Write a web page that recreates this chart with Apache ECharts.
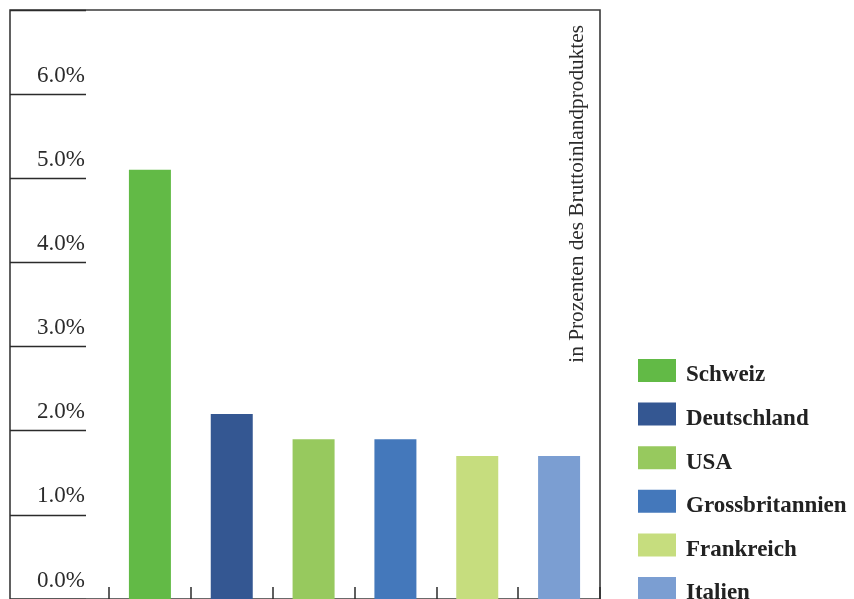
<!DOCTYPE html>
<html>
<head>
<meta charset="utf-8">
<script src="https://cdn.jsdelivr.net/npm/echarts@6/dist/echarts.min.js"></script>
<style>
html,body{margin:0;padding:0;background:#fff;}
#chart{width:854px;height:599px;}
</style>
</head>
<body>
<div id="chart"></div>
<script>
const categories = ['Schweiz', 'Deutschland', 'USA', 'Grossbritannien', 'Frankreich', 'Italien'];
const values = [5.1, 2.2, 1.9, 1.9, 1.7, 1.7];
const colors = ['#62BA46', '#345792', '#97C95E', '#4478BB', '#C6DD7E', '#7B9ED2'];
const yTickLabels = ['0.0%', '1.0%', '2.0%', '3.0%', '4.0%', '5.0%', '6.0%', ''];
const axisTitle = 'in Prozenten des Bruttoinlandproduktes';

const serif = '"Liberation Serif", "DejaVu Serif", serif';
const ink = '#2b2b2b';

const chart = echarts.init(document.getElementById('chart'), null, {renderer: 'canvas'});

const series = categories.map((name, i) => ({
  name: name,
  type: 'bar',
  stack: 'all',
  xAxisIndex: 0,
  yAxisIndex: 0,
  barWidth: 42,
  itemStyle: {color: colors[i]},
  data: categories.map((c, j) => (j === i ? values[j] : '-')),
  silent: true
}));

chart.setOption({
  animation: false,
  backgroundColor: '#fff',
  grid: [
    {left: 109, right: 254, top: 10, bottom: -1},
    {left: 10, width: 76, top: 10, bottom: -1},
    {left: 10, right: 254, top: 10, bottom: -8, show: true, borderColor: '#3a3a3a', borderWidth: 1.6, backgroundColor: 'transparent'}
  ],
  xAxis: [
    {
      gridIndex: 0, type: 'category', data: categories, boundaryGap: true,
      axisLine: {show: false},
      axisLabel: {show: false},
      axisTick: {show: true, interval: 0, inside: true, length: 12, lineStyle: {color: ink, width: 1.5}},
      splitLine: {show: false}
    },
    {gridIndex: 1, type: 'value', show: false},
    {gridIndex: 2, type: 'value', show: false}
  ],
  yAxis: [
    {
      gridIndex: 0, type: 'value', min: 0, max: 7, interval: 1,
      axisLine: {show: false}, axisTick: {show: false}, axisLabel: {show: false}, splitLine: {show: false}
    },
    {
      gridIndex: 1, type: 'value', min: 0, max: 7, interval: 1, position: 'right',
      axisLine: {show: false}, axisTick: {show: false},
      splitLine: {show: true, lineStyle: {color: ink, width: 1.3}},
      axisLabel: {
        inside: true, margin: 1, align: 'right', verticalAlign: 'bottom',
        fontFamily: serif, fontSize: 23, color: ink, lineHeight: 23, padding: [0, 0, 7, 0],
        formatter: (v) => yTickLabels[Math.round(v)] || ''
      }
    },
    {gridIndex: 2, type: 'value', show: false}
  ],
  legend: {
    orient: 'vertical', left: 638, top: 354, height: 320,
    padding: 0,
    itemWidth: 38, itemHeight: 23, itemGap: 10.6,
    icon: 'rect',
    selectedMode: false,
    data: categories,
    formatter: (name) => '{t|' + name + '}',
    textStyle: {
      fontFamily: serif, fontSize: 23, fontWeight: 'bold', color: '#222', padding: [0, 0, 0, 5],
      rich: {t: {fontFamily: serif, fontSize: 23, fontWeight: 'bold', color: '#222', lineHeight: 23, padding: [10, 0, 0, 0]}}
    }
  },
  graphic: [
    {
      type: 'text',
      x: 577, y: 25,
      rotation: Math.PI / 2,
      style: {
        text: axisTitle,
        font: '21.3px ' + serif,
        fill: ink,
        textAlign: 'right',
        textVerticalAlign: 'middle'
      },
      silent: true
    }
  ],
  series: series
});
</script>
</body>
</html>
